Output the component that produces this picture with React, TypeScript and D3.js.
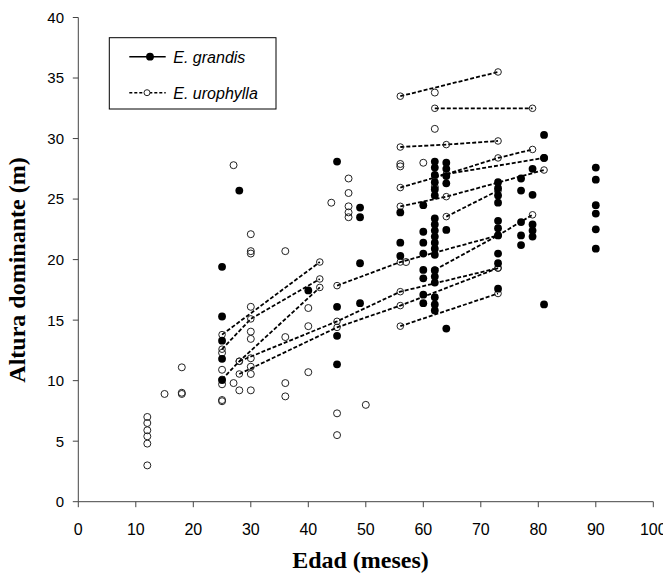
import React from 'react';
import * as d3 from 'd3';

const xTicks = [0, 10, 20, 30, 40, 50, 60, 70, 80, 90, 100];
const yTicks = [0, 5, 10, 15, 20, 25, 30, 35, 40];

// E. grandis: [edad (meses), altura dominante (m)]
const grandisPoints: [number, number][] = [
  [25, 19.4], [25, 15.3], [25, 13.3], [25, 11.8], [25, 10.05],
  [28, 25.7],
  [40, 17.45],
  [45, 28.1], [45, 16.1], [45, 13.7], [45, 11.35],
  [49, 24.3], [49, 23.5], [49, 19.7], [49, 16.4],
  [56, 23.9], [56, 21.4], [56, 20.3],
  [60, 24.5], [60, 22.3], [60, 21.4], [60, 20.5], [60, 19.15], [60, 18.45], [60, 17.1], [60, 16.4],
  [62, 28.1], [62, 27.6], [62, 27.0], [62, 26.4], [62, 25.8], [62, 25.3],
  [62, 23.4], [62, 22.9], [62, 22.4], [62, 21.9], [62, 21.4], [62, 20.9], [62, 20.4],
  [62, 19.1], [62, 18.6], [62, 18.1], [62, 16.9], [62, 16.3], [62, 15.8],
  [64, 28.0], [64, 27.5], [64, 26.9], [64, 26.3], [64, 22.45], [64, 14.3],
  [73, 26.4], [73, 25.9], [73, 25.3], [73, 24.7], [73, 23.2], [73, 22.6], [73, 22.0], [73, 20.5], [73, 19.7], [73, 17.6],
  [77, 26.7], [77, 25.7], [77, 23.1], [77, 22.0], [77, 21.2],
  [79, 27.5], [79, 25.35], [79, 22.9], [79, 22.4], [79, 21.9],
  [81, 30.3], [81, 28.4], [81, 16.3],
  [90, 27.6], [90, 26.6], [90, 24.5], [90, 23.8], [90, 22.5], [90, 20.9],
];

// E. urophylla: isolated measurements
const urophyllaPoints: [number, number][] = [
  [12, 7.0], [12, 6.5], [12, 5.9], [12, 5.4], [12, 4.8], [12, 3.0],
  [15, 8.9], [18, 11.1], [18, 9.0], [18, 8.9],
  [25, 12.3], [25, 10.9], [25, 9.7], [25, 8.4], [25, 8.3],
  [27, 27.8], [27, 9.8],
  [28, 9.2],
  [30, 22.1], [30, 20.7], [30, 20.5], [30, 16.1], [30, 14.05], [30, 13.45], [30, 11.85], [30, 11.15], [30, 10.55], [30, 9.2],
  [36, 20.7], [36, 13.6], [36, 9.8], [36, 8.7],
  [40, 16.0], [40, 14.5], [40, 10.7],
  [44, 24.7],
  [45, 7.3], [45, 5.5],
  [47, 26.7], [47, 25.5], [47, 24.4], [47, 23.9], [47, 23.5],
  [50, 8.0],
  [56, 27.9], [56, 27.7],
  [57, 19.8],
  [60, 28.0],
  [62, 33.8], [62, 30.8], [62, 26.0],
  [81, 28.4],
];

// E. urophylla: repeated measurements of the same plots (dashed lines)
const urophyllaLines: [number, number][][] = [
  [[25, 13.8], [42, 19.8]],
  [[25, 12.6], [30, 15.1], [42, 18.4]],
  [[25, 10.1], [28, 11.6], [42, 17.7]],
  [[28, 11.6], [45, 14.9], [56, 17.35], [73, 19.3]],
  [[28, 10.55], [45, 14.4], [56, 16.2], [73, 19.3]],
  [[45, 17.85], [56, 19.8], [73, 22.0], [79, 23.7]],
  [[56, 33.5], [73, 35.5]],
  [[62, 32.5], [79, 32.5]],
  [[56, 29.3], [64, 29.5], [73, 29.8]],
  [[56, 25.95], [64, 27.05], [73, 28.4], [79, 29.1]],
  [[62, 26.9], [81, 28.4]],
  [[56, 24.4], [64, 25.2], [81, 27.4]],
  [[64, 23.55], [73, 25.7]],
  [[62, 19.15], [73, 22.0]],
  [[56, 14.5], [73, 17.2]],
];

const legendLabels = ['E. grandis', 'E. urophylla'];

export default function App() {
  const x = d3.scaleLinear().domain([0, 100]).range([78.3, 653.3]);
  const y = d3.scaleLinear().domain([0, 40]).range([501.7, 17.5]);
  const line = d3
    .line<[number, number]>()
    .x((d) => x(d[0]))
    .y((d) => y(d[1]));
  const axisColor = '#444';
  const sans = '"Liberation Sans", Arial, sans-serif';
  const serif = '"Liberation Serif", "Times New Roman", serif';
  const dash = '4,2';

  return (
    <svg
      width={663}
      height={574}
      style={{ position: 'absolute', left: 0, top: 0, background: '#fff' }}
    >
      <rect x={0} y={0} width={663} height={574} fill="#fff" />
      {/* axes */}
      <line x1={x(0)} x2={x(0)} y1={y(40)} y2={y(0)} stroke={axisColor} strokeWidth={1} />
      <line x1={x(0)} x2={x(100)} y1={y(0)} y2={y(0)} stroke={axisColor} strokeWidth={1} />
      {yTicks.map((t) => (
        <g key={'y' + t}>
          <line x1={x(0) - 5.5} x2={x(0)} y1={y(t)} y2={y(t)} stroke={axisColor} />
          <text
            x={64}
            y={y(t)}
            dy="0.36em"
            textAnchor="end"
            fontFamily={sans}
            fontSize={15}
            fill="#000"
          >
            {t}
          </text>
        </g>
      ))}
      {xTicks.map((t) => (
        <g key={'x' + t}>
          <line x1={x(t)} x2={x(t)} y1={y(0)} y2={y(0) + 5.5} stroke={axisColor} />
          <text
            x={x(t)}
            y={535}
            textAnchor="middle"
            fontFamily={sans}
            fontSize={16}
            fill="#000"
          >
            {t}
          </text>
        </g>
      ))}
      {/* axis titles */}
      <text
        x={360.5}
        y={568}
        textAnchor="middle"
        fontFamily={serif}
        fontWeight="bold"
        fontSize={24}
        fill="#000"
      >
        Edad (meses)
      </text>
      <text
        transform="translate(25,270) rotate(-90)"
        textAnchor="middle"
        fontFamily={serif}
        fontWeight="bold"
        fontSize={24}
        fill="#000"
      >
        Altura dominante (m)
      </text>

      {/* urophylla isolated points */}
      {urophyllaPoints.map((d, i) => (
        <circle
          key={'u' + i}
          cx={x(d[0])}
          cy={y(d[1])}
          r={3.5}
          fill="none"
          stroke="#222"
          strokeWidth={1}
        />
      ))}
      {/* urophylla plot lines */}
      {urophyllaLines.map((pts, i) => (
        <g key={'l' + i}>
          <path
            d={line(pts) || ''}
            fill="none"
            stroke="#000"
            strokeWidth={1.8}
            strokeDasharray={dash}
          />
          {pts.map((d, j) => (
            <circle
              key={j}
              cx={x(d[0])}
              cy={y(d[1])}
              r={3.3}
              fill="none"
              stroke="#222"
              strokeWidth={1}
            />
          ))}
        </g>
      ))}
      {/* grandis points */}
      {grandisPoints.map((d, i) => (
        <circle key={'g' + i} cx={x(d[0])} cy={y(d[1])} r={3.9} fill="#000" />
      ))}

      {/* legend */}
      <rect x={109.3} y={37.7} width={166.7} height={71.3} fill="#fff" stroke="#000" strokeWidth={1} />
      <line x1={129.3} x2={165.7} y1={56.7} y2={56.7} stroke="#000" strokeWidth={1.6} />
      <circle cx={150} cy={56.7} r={3.9} fill="#000" />
      <text x={173.3} y={63} fontFamily={sans} fontStyle="italic" fontSize={16} fill="#000">
        {legendLabels[0]}
      </text>
      <line
        x1={129.3}
        x2={165.7}
        y1={92.7}
        y2={92.7}
        stroke="#000"
        strokeWidth={1.5}
        strokeDasharray="3,2"
      />
      <circle cx={147} cy={92.7} r={3} fill="#fff" stroke="#222" strokeWidth={1} />
      <text x={173.3} y={99} fontFamily={sans} fontStyle="italic" fontSize={16} fill="#000">
        {legendLabels[1]}
      </text>
    </svg>
  );
}
